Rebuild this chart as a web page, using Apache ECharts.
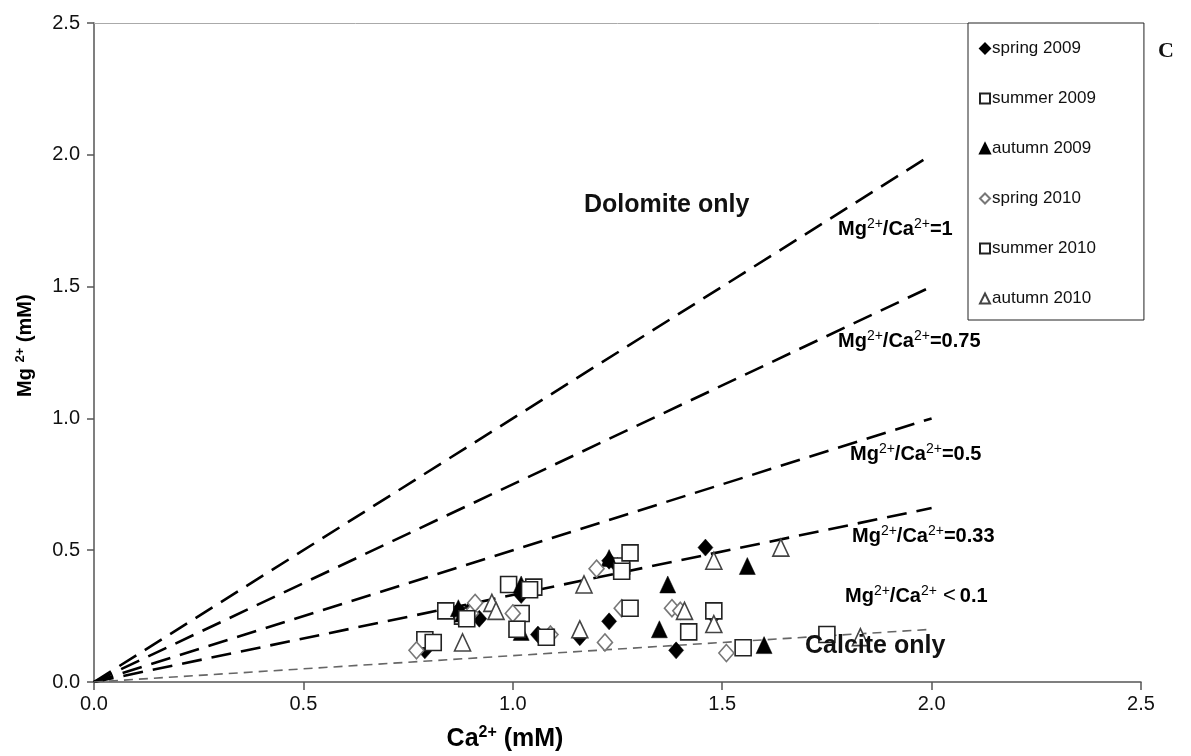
<!DOCTYPE html>
<html lang="en">
<head>
<meta charset="UTF-8">
<title>Mg vs Ca</title>
<script src="https://cdn.jsdelivr.net/npm/echarts@6/dist/echarts.min.js"></script>
<style>
  html, body { margin: 0; padding: 0; background: #fff; }
  #main { width: 1191px; height: 756px; }
</style>
</head>
<body>
<div id="main"></div>
<script type="text/javascript">
    // data: [Ca2+, Mg2+] in mM
    var spring2009 = [[0.79,0.12],[0.87,0.27],[0.90,0.28],[0.92,0.24],[1.02,0.34],[1.02,0.33],[1.06,0.18],
        [1.16,0.17],[1.23,0.23],[1.23,0.46],[1.25,0.44],[1.39,0.12],[1.46,0.51],[1.48,0.25]];
    var summer2009 = [[0.79,0.16],[0.84,0.27],[0.88,0.25],[0.99,0.37],[1.02,0.26],[1.05,0.36],
        [1.26,0.44],[1.48,0.27],[1.55,0.13]];
    var autumn2009 = [[0.87,0.28],[0.88,0.26],[1.02,0.37],[1.02,0.19],[1.23,0.47],[1.35,0.20],
        [1.37,0.37],[1.56,0.44],[1.60,0.14]];
    var spring2010 = [[0.77,0.12],[0.90,0.26],[0.91,0.30],[1.00,0.26],[1.09,0.18],[1.20,0.43],
        [1.22,0.15],[1.26,0.28],[1.38,0.28],[1.40,0.27],[1.51,0.11]];
    var summer2010 = [[0.81,0.15],[0.89,0.24],[1.01,0.20],[1.04,0.35],[1.08,0.17],[1.26,0.42],
        [1.28,0.49],[1.28,0.28],[1.42,0.19],[1.75,0.18]];
    var autumn2010 = [[0.88,0.15],[0.95,0.30],[0.96,0.27],[1.16,0.20],[1.17,0.37],[1.41,0.27],
        [1.48,0.22],[1.48,0.46],[1.64,0.51],[1.83,0.17]];

    // ratio lines from origin to x = 2.0
    var ratioNames = ['1', '0.75', '0.5', '0.33', '0.1'];
    var ratioEnds = [[2.0, 2.0], [2.0, 1.5], [2.0, 1.0], [2.0, 0.66], [2.0, 0.2]];

    var chart = echarts.init(document.getElementById('main'));

    var scatterStyles = [
        { name: 'spring 2009', data: spring2009, symbol: 'diamond', size: [15, 17],
            itemStyle: { color: '#000', borderColor: '#000', borderWidth: 0.5 } },
        { name: 'summer 2009', data: summer2009, symbol: 'rect', size: 16,
            itemStyle: { color: '#fff', borderColor: '#222', borderWidth: 1.6 } },
        { name: 'autumn 2009', data: autumn2009, symbol: 'triangle', size: [16, 17],
            itemStyle: { color: '#000', borderColor: '#000', borderWidth: 0.5 } },
        { name: 'spring 2010', data: spring2010, symbol: 'diamond', size: [15, 17],
            itemStyle: { color: '#fff', borderColor: '#777', borderWidth: 1.6 } },
        { name: 'summer 2010', data: summer2010, symbol: 'rect', size: 16,
            itemStyle: { color: '#fff', borderColor: '#222', borderWidth: 1.6 } },
        { name: 'autumn 2010', data: autumn2010, symbol: 'triangle', size: [16, 17],
            itemStyle: { color: '#fff', borderColor: '#444', borderWidth: 1.6 } }
    ];

    var series = [];
    for (var i = 0; i < ratioEnds.length; i++) {
        var calcite = i === ratioEnds.length - 1;
        series.push({
            name: 'ratio ' + ratioNames[i],
            type: 'line',
            data: [[0, 0], ratioEnds[i]],
            symbol: 'none',
            silent: true,
            z: 1,
            lineStyle: {
                color: calcite ? '#666' : '#000',
                width: calcite ? 1.6 : 2.6,
                type: calcite ? [9, 6] : [20, 10]
            }
        });
    }
    for (var j = 0; j < scatterStyles.length; j++) {
        var s = scatterStyles[j];
        s.itemStyle.opacity = 1;
        series.push({
            name: s.name,
            type: 'scatter',
            data: s.data,
            symbol: s.symbol,
            symbolSize: s.size,
            itemStyle: s.itemStyle,
            z: 3
        });
    }

    var ratioRich = {
        b: { fontFamily: 'Arial, Liberation Sans', fontWeight: 'bold', fontSize: 20, color: '#111' },
        sup: { fontFamily: 'Arial, Liberation Sans', fontSize: 14, color: '#111', padding: [0, 0, 10, 0] },
        lt: { fontFamily: 'Arial, Liberation Sans', fontSize: 22, color: '#111', padding: [0, 4, 0, 6] }
    };
    function ratioText(x, yc, val) {
        return {
            type: 'text', left: x, top: yc - 13, z: 10,
            style: {
                text: '{b|Mg}{sup|2+}{b|/Ca}{sup|2+}{b|=' + val + '}',
                rich: ratioRich
            }
        };
    }
    var axisRich = {
        b: { fontFamily: 'Arial, Liberation Sans', fontWeight: 'bold', fontSize: 25, color: '#111' },
        sup: { fontFamily: 'Arial, Liberation Sans', fontWeight: 'bold', fontSize: 16, color: '#111', padding: [0, 0, 12, 0] }
    };

    chart.setOption({
        animation: false,
        grid: { left: 94, right: 50, top: 23, bottom: 74 },
        legend: {
            orient: 'vertical',
            left: 968, top: 23,
            data: ['spring 2009', 'summer 2009', 'autumn 2009', 'spring 2010', 'summer 2010', 'autumn 2010'],
            backgroundColor: '#fff',
            borderColor: '#222',
            borderWidth: 1,
            padding: [17, 48, 13, 11],
            itemGap: 33,
            itemWidth: 10,
            itemHeight: 10,
            selectedMode: false,
            textStyle: { fontFamily: 'Arial, Liberation Sans', fontSize: 17, color: '#111', padding: [0, 0, 0, -3] }
        },
        xAxis: [{
            type: 'value', min: 0, max: 2.5, interval: 0.5,
            splitLine: { show: false },
            axisLine: { lineStyle: { color: '#555', width: 1.5 } },
            axisTick: { show: true, length: 8, lineStyle: { color: '#555', width: 1.5 } },
            axisLabel: {
                margin: 12, color: '#111', fontFamily: 'Arial, Liberation Sans', fontSize: 20,
                formatter: function (v) { return v.toFixed(1); }
            }
        }, {
            type: 'value', position: 'top', min: 0, max: 2.5,
            splitLine: { show: false },
            axisLine: { show: true, lineStyle: { color: '#aaa', width: 1 } },
            axisTick: { show: false }, axisLabel: { show: false }
        }],
        yAxis: {
            type: 'value', min: 0, max: 2.5, interval: 0.5,
            splitLine: { show: false },
            axisLine: { show: true, lineStyle: { color: '#555', width: 1.5 } },
            axisTick: { show: true, length: 7, lineStyle: { color: '#555', width: 1.5 } },
            axisLabel: {
                margin: 14, color: '#111', fontFamily: 'Arial, Liberation Sans', fontSize: 20,
                formatter: function (v) { return v.toFixed(1); }
            }
        },
        graphic: [
            {
                type: 'text', x: 505, y: 739,
                style: {
                    text: '{b|Ca}{sup|2+}{b| (mM)}',
                    align: 'center', verticalAlign: 'middle',
                    rich: axisRich
                }
            },
            {
                type: 'text', x: 14, y: 397, rotation: Math.PI / 2,
                style: {
                    text: '{b|Mg }{sup|2+}{b| (mM)}',
                    rich: {
                        b: { fontFamily: 'Arial, Liberation Sans', fontWeight: 'bold', fontSize: 20, color: '#111' },
                        sup: { fontFamily: 'Arial, Liberation Sans', fontWeight: 'bold', fontSize: 13, color: '#111', padding: [0, 0, 10, 0] }
                    }
                }
            },
            {
                type: 'text', left: 584, top: 193, z: 10,
                style: { text: 'Dolomite only', fontFamily: 'Arial, Liberation Sans', fontWeight: 'bold', fontSize: 25, fill: '#111' }
            },
            {
                type: 'text', left: 805, top: 634, z: 10,
                style: { text: 'Calcite only', fontFamily: 'Arial, Liberation Sans', fontWeight: 'bold', fontSize: 25, fill: '#111' }
            },
            ratioText(838, 230, '1'),
            ratioText(838, 342, '0.75'),
            ratioText(850, 455, '0.5'),
            ratioText(852, 537, '0.33'),
            {
                type: 'text', left: 845, top: 597 - 13, z: 10,
                style: {
                    text: '{b|Mg}{sup|2+}{b|/Ca}{sup|2+}{lt|<}{b|0.1}',
                    rich: ratioRich
                }
            },
            {
                type: 'text', left: 1158, top: 40,
                style: { text: 'C', fontFamily: 'Liberation Serif, Times New Roman, serif', fontWeight: 'bold', fontSize: 22, fill: '#111' }
            }
        ],
        series: series
    });
</script>
</body>
</html>
